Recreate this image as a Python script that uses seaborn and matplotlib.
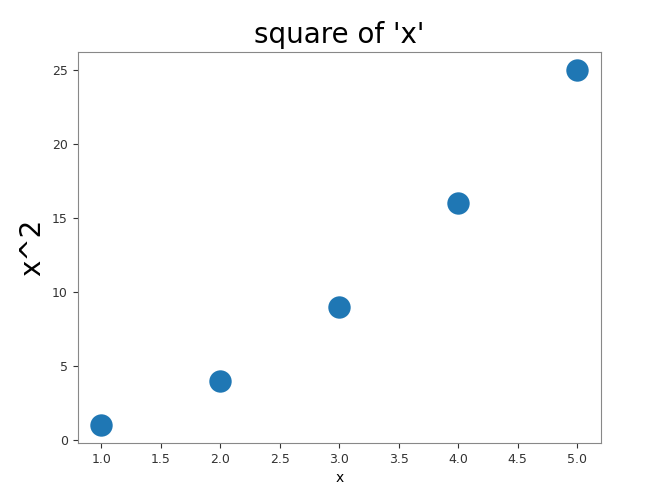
import matplotlib
matplotlib.use("Agg")
import matplotlib.pyplot as plt
import seaborn as sns
import pandas as pd

# data
x_values = [1, 2, 3, 4, 5]
y_values = [1, 4, 9, 16, 25]
data = pd.DataFrame({'x': x_values, 'y': y_values})

fig = plt.figure(figsize=(6.64, 5.03), dpi=100)
ax = fig.add_axes([0.117, 0.119, 0.788, 0.778])
sns.scatterplot(x='x', y='y', data=data, s=260, color='#1f77b4', linewidth=0, ax=ax)
ax.set_title("square of 'x'", fontsize=20)
ax.set_xlabel('x')
ax.set_ylabel('x^2', fontsize=20)
ax.tick_params(labelsize=9, colors='#333333')
for side in ax.spines.values():
    side.set_color('#888888')
fig.savefig('out.png', dpi=100)
